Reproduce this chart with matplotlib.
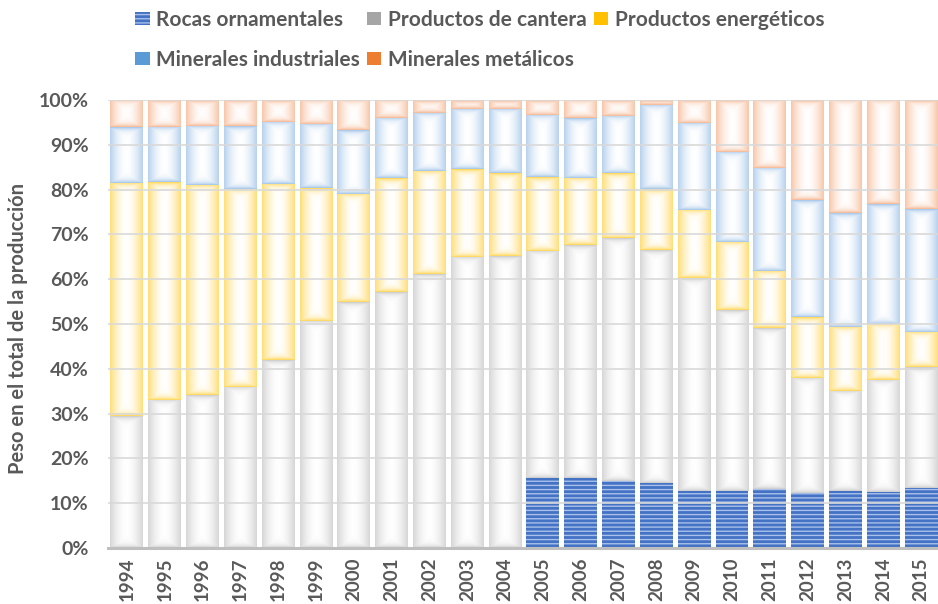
import numpy as np
import matplotlib
matplotlib.use("Agg")
import matplotlib.pyplot as plt
from matplotlib.colors import to_rgb
from matplotlib.patches import Patch

# Share of total production (%) per year
years = [str(y) for y in range(1994, 2016)]
rocas = [0, 0, 0, 0, 0, 0, 0, 0, 0, 0, 0,
         15.6, 15.7, 14.9, 14.6, 12.7, 12.7, 13.2, 12.3, 12.7, 12.5, 13.4]
cantera = [29.4, 33.1, 34.1, 36.0, 41.9, 50.7, 54.8, 57.1, 61.1, 65.0, 65.1,
           50.7, 52.0, 54.2, 51.9, 47.5, 40.4, 35.8, 25.7, 22.4, 25.0, 26.9]
energeticos = [52.1, 48.5, 46.9, 44.2, 39.3, 29.6, 24.3, 25.4, 23.1, 19.5, 18.5,
               16.5, 15.0, 14.5, 13.6, 15.2, 15.3, 12.8, 13.6, 14.3, 12.6, 8.0]
industriales = [12.4, 12.4, 13.3, 14.0, 14.0, 14.3, 14.1, 13.4, 13.0, 13.6, 14.5,
                13.9, 13.2, 12.9, 18.8, 19.5, 20.1, 23.0, 26.1, 25.3, 26.6, 27.4]
metalicos = [6.1, 6.0, 5.7, 5.8, 4.8, 5.4, 6.8, 4.1, 2.8, 1.9, 1.9,
             3.3, 4.1, 3.5, 1.1, 5.1, 11.5, 15.2, 22.3, 25.3, 23.3, 24.3]

names = ["Rocas ornamentales", "Productos de cantera", "Productos energéticos",
         "Minerales industriales", "Minerales metálicos"]
colors = ["#4472C4", "#A5A5A5", "#FFC000", "#5B9BD5", "#ED7D31"]
tints = [None, "#C8C8C8", "#FFD34A", "#9EC2E8", "#F5B38C"]

txt = "#595959"
plt.rcParams["font.family"] = ["Lato", "DejaVu Sans"]
plt.rcParams["font.weight"] = "bold"
plt.rcParams["hatch.linewidth"] = 1.0

fig = plt.figure(figsize=(9.38, 6.04), dpi=100)
ax = fig.add_axes([108 / 938, 1 - 548 / 604, 832 / 938, 448 / 604])
ax.set_xlim(-0.5, len(years) - 0.5)
ax.set_ylim(0, 100)

x = np.arange(len(years))
w = 0.87


def shade(bars, tint, fade=3.0):
    # white centre, tinted edges, like the Excel gradient fill
    tint = np.array(to_rgb(tint))
    for b in bars:
        x0, y0, bw, bh = b.get_x(), b.get_y(), b.get_width(), b.get_height()
        if bh <= 0:
            continue
        (px0, py0), (px1, py1) = ax.transData.transform([(x0, y0), (x0 + bw, y0 + bh)])
        nx = max(int(round(px1 - px0)), 2)
        ny = max(int(round(py1 - py0)), 2)
        hx = 0.72 * np.abs(np.linspace(-1, 1, nx)) ** 1.7
        k = np.arange(ny) + 0.5
        d = np.minimum(k, ny - k)
        vy = np.exp(-d / fade)
        t = np.maximum(hx[None, :], vy[:, None])
        img = 1 - t[..., None] * (1 - tint)
        im = ax.imshow(img, extent=[x0, x0 + bw, y0, y0 + bh], origin="lower",
                       aspect="auto", interpolation="bilinear", zorder=2)
        im.set_clip_path(b)


bottom = np.zeros(len(years))
series = [rocas, cantera, energeticos, industriales, metalicos]
for i, vals in enumerate(series):
    vals = np.array(vals)
    if i == 0:
        ax.bar(x, vals, w, bottom=bottom, color=colors[0], edgecolor="#A9C0EA",
               hatch="----", linewidth=0, zorder=2)
    else:
        bars = ax.bar(x, vals, w, bottom=bottom, facecolor="none", linewidth=0, zorder=2)
        shade(bars, tints[i])
    bottom += vals

ax.set_xlim(-0.5, len(years) - 0.5)
ax.set_ylim(0, 100)

ax.set_yticks(np.arange(0, 101, 10))
ax.set_yticklabels([f"{v}%" for v in range(0, 101, 10)])
ax.set_xticks(x)
ax.set_xticklabels(years, rotation=90)
ax.tick_params(axis="y", length=0, pad=14, labelsize=14, labelcolor=txt)
ax.tick_params(axis="x", length=0, pad=7, labelsize=13.5, labelcolor=txt)

ax.yaxis.grid(True, color="#D9D9D9", linewidth=1.2)
ax.set_axisbelow(False)
for s in ["top", "right", "left"]:
    ax.spines[s].set_visible(False)
ax.spines["bottom"].set_color("#BFBFBF")
ax.spines["bottom"].set_linewidth(2.2)
ax.spines["bottom"].set_zorder(3)

fig.text(18 / 938, 1 - 328 / 604, "Peso en el total de la producción",
         rotation=90, ha="center", va="center", fontsize=14.5, color=txt, fontweight="bold")

handles = [Patch(facecolor=colors[0], edgecolor="#A9C0EA", hatch="----", linewidth=0)]
handles += [Patch(facecolor=c, linewidth=0) for c in colors[1:]]
order = [0, 3, 1, 4, 2]
leg = fig.legend([handles[i] for i in order], [names[i] for i in order],
                 loc="upper left", bbox_to_anchor=(135 / 938, 1 - 10 / 604), ncol=3,
                 frameon=False, fontsize=15, handlelength=0.7, handleheight=0.55,
                 handletextpad=0.3, columnspacing=0.35, labelspacing=0.95,
                 borderpad=0, borderaxespad=0)
for t in leg.get_texts():
    t.set_color(txt)

fig.savefig("out.png", dpi=100)
